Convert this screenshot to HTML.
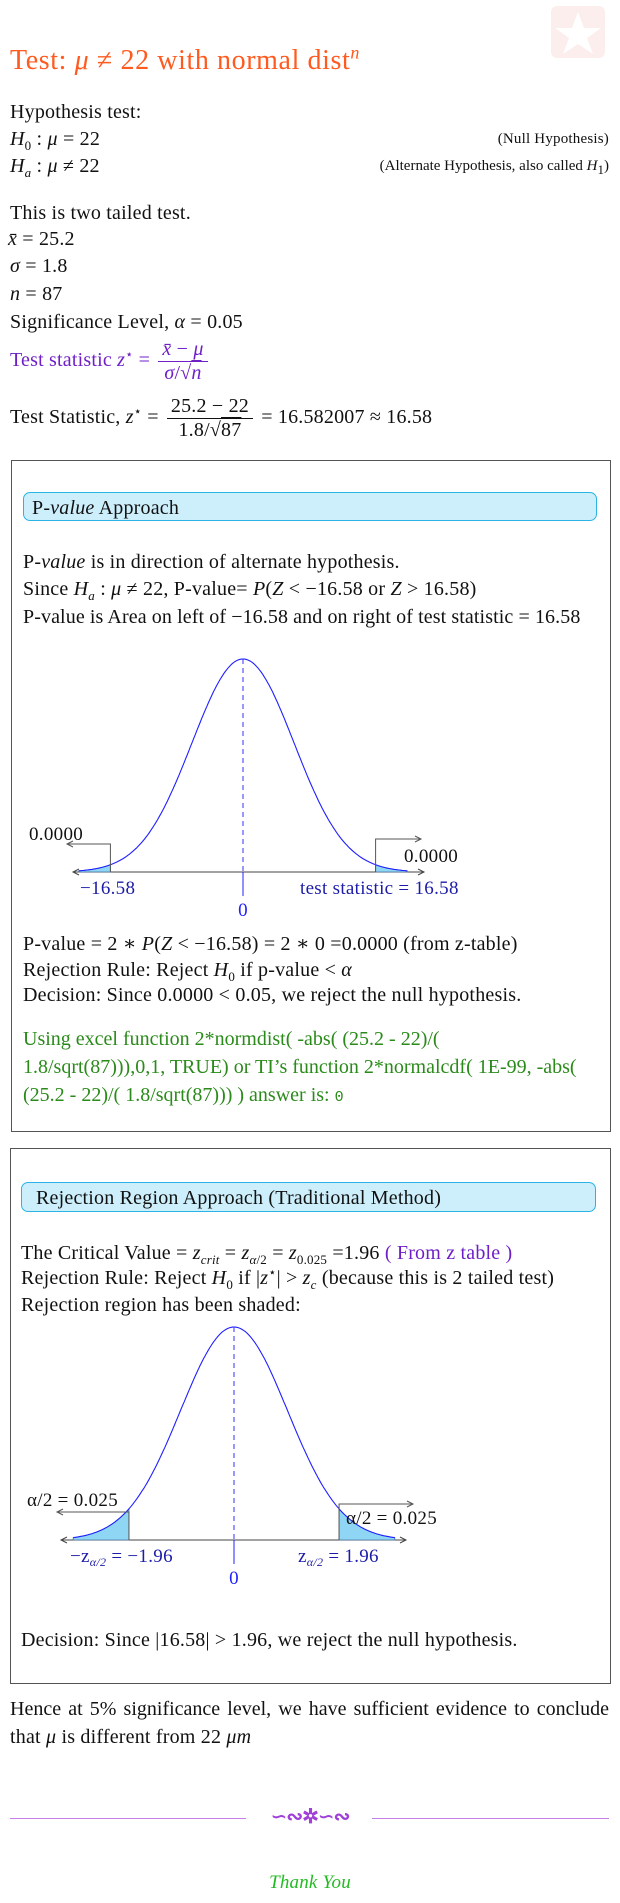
<!DOCTYPE html>
<html><head><meta charset="utf-8">
<style>
body{margin:0;background:#fff;}
#pg{position:relative;width:620px;height:1903px;overflow:hidden;font-family:"Liberation Serif","DejaVu Serif",serif;font-size:20px;letter-spacing:0.2px;color:#111;}
.t{position:absolute;white-space:nowrap;line-height:1;}
i{font-style:italic;}
.frac{display:inline-block;vertical-align:middle;text-align:center;line-height:1.15;margin:0 3px;}
.frac > span{display:block;padding:0 4px;}
.frac > .num{border-bottom:1px solid currentColor;}
.ov{text-decoration:overline;}
.box{position:absolute;border:1px solid #555;}
.hdr{position:absolute;background:#cdeffc;border:1px solid #2bb3e6;border-radius:7px;font-size:20px;box-sizing:border-box;padding:4px 8px;}
.green{color:#2a8a1a;}
.purple{color:#6f1fc8;}
sub,sup{font-size:13px;line-height:0;}
</style></head><body>
<div id="pg">
<svg class="t" style="left:551px;top:6px" width="54" height="52"><rect x="0" y="0" width="54" height="52" rx="6" fill="#fdeeee"/><polygon points="27,6 33,22 50,22 36,32 42,48 27,38 12,48 18,32 4,22 21,22" fill="#fff"/></svg>

<div class="t" style="left:10px;top:47px;font-size:28px;letter-spacing:0.6px;color:#ff5a1f">Test: <i>μ</i> ≠ 22 with normal dist<sup style="font-size:18px"><i>n</i></sup></div>

<div class="t" style="left:10px;top:102px">Hypothesis test:</div>
<div class="t" style="left:10px;top:129px"><i>H</i><sub>0</sub> : <i>μ</i> = 22</div>
<div class="t" style="right:11px;top:132px;font-size:15px">(Null Hypothesis)</div>
<div class="t" style="left:10px;top:156px"><i>H<sub>a</sub></i> : <i>μ</i> ≠ 22</div>
<div class="t" style="right:11px;top:159px;font-size:15px;letter-spacing:0">(Alternate Hypothesis, also called <i>H</i><sub>1</sub>)</div>

<div class="t" style="left:10px;top:203px">This is two tailed test.</div>
<div class="t" style="left:8px;top:229px"><i>x̄</i> = 25.2</div>
<div class="t" style="left:10px;top:256px"><i>σ</i> = 1.8</div>
<div class="t" style="left:10px;top:284px"><i>n</i> = 87</div>
<div class="t" style="left:10px;top:312px">Significance Level, <i>α</i> = 0.05</div>
<div class="t purple" style="left:10px;top:338px">Test statistic <i>z</i><sup>⋆</sup> = <span class="frac"><span class="num"><i>x̄</i> − <i>μ</i></span><span><i>σ</i>/√<span class="ov"><i>n</i></span></span></span></div>
<div class="t" style="left:10px;top:395px">Test Statistic, <i>z</i><sup>⋆</sup> = <span class="frac"><span class="num">25.2 − 22</span><span>1.8/√<span class="ov">87</span></span></span> = 16.582007 ≈ 16.58</div>

<div class="box" style="left:11px;top:460px;width:598px;height:670px"></div>
<div class="hdr" style="left:23px;top:492px;width:574px;height:29px">P-<i>value</i> Approach</div>
<div class="t" style="left:23px;top:552px">P-<i>value</i> is in direction of alternate hypothesis.</div>
<div class="t" style="left:23px;top:579px">Since <i>H<sub>a</sub></i> : <i>μ</i> ≠ 22, P-value= <i>P</i>(<i>Z</i> &lt; −16.58 or <i>Z</i> &gt; 16.58)</div>
<div class="t" style="left:23px;top:607px;letter-spacing:0.1px">P-value is Area on left of −16.58 and on right of test statistic = 16.58</div>

<svg id="c1" class="t" style="left:0;top:640px" width="620" height="290"></svg>

<div class="t" style="left:23px;top:934px">P-value = 2 ∗ <i>P</i>(<i>Z</i> &lt; −16.58) = 2 ∗ 0 =0.0000 (from z-table)</div>
<div class="t" style="left:23px;top:960px">Rejection Rule: Reject <i>H</i><sub>0</sub> if p-value &lt; <i>α</i></div>
<div class="t" style="left:23px;top:985px">Decision: Since 0.0000 &lt; 0.05, we reject the null hypothesis.</div>
<div class="t green" style="left:23px;top:1025px;line-height:28px;white-space:nowrap;letter-spacing:0">Using excel function 2*normdist( -abs( (25.2 - 22)/(<br>1.8/sqrt(87))),0,1, TRUE) or TI’s function 2*normalcdf( 1E-99, -abs(<br>(25.2 - 22)/( 1.8/sqrt(87))) ) answer is: <span style="font-family:'Liberation Mono',monospace;font-size:15px">0</span></div>

<div class="box" style="left:10px;top:1148px;width:599px;height:534px"></div>
<div class="hdr" style="left:21px;top:1182px;width:575px;height:30px;padding-left:14px">Rejection Region Approach (Traditional Method)</div>
<div class="t" style="left:21px;top:1243px">The Critical Value = <i>z<sub>crit</sub></i> = <i>z</i><sub><i>α</i>/2</sub> = <i>z</i><sub>0.025</sub> =1.96 <span class="purple">( From z table )</span></div>
<div class="t" style="left:21px;top:1268px">Rejection Rule: Reject <i>H</i><sub>0</sub> if |<i>z</i><sup>⋆</sup>| &gt; <i>z<sub>c</sub></i> (because this is 2 tailed test)</div>
<div class="t" style="left:21px;top:1295px">Rejection region has been shaded:</div>

<svg id="c2" class="t" style="left:0;top:1310px" width="620" height="290"></svg>

<div class="t" style="left:21px;top:1630px">Decision: Since |16.58| &gt; 1.96, we reject the null hypothesis.</div>
<div class="t" style="left:10px;top:1699px;width:599px;text-align:justify;text-align-last:justify;white-space:normal;letter-spacing:0">Hence at 5% significance level, we have sufficient evidence to conclude</div>
<div class="t" style="left:10px;top:1727px">that <i>μ</i> is different from 22 <i>μm</i></div>

<div class="t" style="left:10px;top:1818px;width:236px;height:1px;background:#c77fe8"></div>
<div class="t" style="left:372px;top:1818px;width:237px;height:1px;background:#c77fe8"></div>
<div class="t" style="left:266px;top:1807px;width:88px;text-align:center;color:#a040d8;font-size:20px;font-weight:bold;letter-spacing:-1px">∽∾✲∽∾</div>
<div class="t" style="left:0;top:1873px;width:620px;text-align:center;color:#22bb22;font-style:italic;font-size:19px">Thank You</div>
</div>
<script>
// Chart 1 data
const c1Bounds = [-16.58, 16.58];
const c1Labels = ["−16.58", "test statistic = 16.58", "0"];
const c1Areas = ["0.0000", "0.0000"];
// Chart 2 data
const c2Bounds = [-1.96, 1.96];
const c2Labels = ["−z<tspan font-size='12' font-style='italic' dy='4'>α/2</tspan><tspan dy='-4'> = −1.96</tspan>", "z<tspan font-size='12' font-style='italic' dy='4'>α/2</tspan><tspan dy='-4'> = 1.96</tspan>"];
const c2Areas = ["α/2 = 0.025", "α/2 = 0.025"];

const NS = "http://www.w3.org/2000/svg";
function mk(svg, tag, attrs){const e=document.createElementNS(NS,tag);for(const k in attrs)e.setAttribute(k,attrs[k]);svg.appendChild(e);return e;}
function pdf(z){return Math.exp(-z*z/2);}

function drawChart(svg, cfg){
  const X = z => cfg.cx + z*cfg.sx;
  const Y = h => cfg.base - h*cfg.h;
  const zmin=cfg.zmin, zmax=-cfg.zmin;
  const ax=mk(svg,"line",{x1:cfg.axL,y1:cfg.base,x2:cfg.axR,y2:cfg.base,stroke:"#444","stroke-width":1});
  
  
  mk(svg,"path",{d:`M${cfg.axL+6},${cfg.base-3} L${cfg.axL},${cfg.base} L${cfg.axL+6},${cfg.base+3} M${cfg.axR-6},${cfg.base-3} L${cfg.axR},${cfg.base} L${cfg.axR-6},${cfg.base+3}`,fill:"none",stroke:"#444"});
  const lo=Math.max(cfg.bounds[0],-cfg.shadeLim), hi=Math.min(cfg.bounds[1],cfg.shadeLim);
  [[zmin,lo],[hi,zmax]].forEach((r,i)=>{
    let d=`M${X(r[0])},${cfg.base}`;
    for(let k=0;k<=30;k++){const z=r[0]+(r[1]-r[0])*k/30;d+=` L${X(z)},${Y(pdf(z))}`;}
    d+=` L${X(r[1])},${cfg.base} Z`;
    const p=mk(svg,"path",{d,fill:"#8fd6f5",stroke:"#4a6fa0","stroke-width":0.8});
    
    
  });
  let d="";
  for(let k=0;k<=200;k++){const z=zmin+(zmax-zmin)*k/200;d+=(k?" L":"M")+X(z).toFixed(1)+","+Y(pdf(z)).toFixed(1);}
  const c=mk(svg,"path",{d,fill:"none",stroke:"#2020ff","stroke-width":1.1});
  
  
  const m=mk(svg,"line",{x1:X(0),y1:Y(1),x2:X(0),y2:cfg.base,stroke:"#3030ff","stroke-dasharray":"5,4"});
  
  
  mk(svg,"line",{x1:X(0),y1:cfg.base,x2:X(0),y2:cfg.base+24,stroke:"#2020ff"});
  const zl=mk(svg,"text",{x:X(0),y:cfg.base+44,"text-anchor":"middle",fill:"#2020ff","font-size":19,"font-family":"Liberation Serif, serif"});
  zl.textContent="0";
  
  
  const xl=X(lo), xr=X(hi);
  const yl=cfg.base-cfg.armH[0], yr=cfg.base-cfg.armH[1];
  mk(svg,"path",{d:`M${xl},${cfg.base} L${xl},${yl} L${cfg.arrL},${yl} M${cfg.arrL+6},${yl-3} L${cfg.arrL},${yl} L${cfg.arrL+6},${yl+3}`,fill:"none",stroke:"#555"});
  mk(svg,"path",{d:`M${xr},${cfg.base} L${xr},${yr} L${cfg.arrR},${yr} M${cfg.arrR-6},${yr-3} L${cfg.arrR},${yr} L${cfg.arrR-6},${yr+3}`,fill:"none",stroke:"#555"});
  cfg.areas.forEach((a,i)=>{
    const t=mk(svg,"text",{x:cfg.areaPos[i][0],y:cfg.areaPos[i][1],"font-size":19,"font-family":"Liberation Serif, serif",fill:"#111","letter-spacing":"0.3"});
    t.textContent=a;
    
    
  });
  cfg.labels.forEach((l,i)=>{
    const t=mk(svg,"text",{x:cfg.labPos[i],y:cfg.base+22,"font-size":19,"font-family":"Liberation Serif, serif",fill:"#1c1ca8","letter-spacing":"0.3"});
    t.innerHTML=l;
    
    
  });
}
drawChart(document.getElementById('c1'),{cx:243,sx:51,base:232,h:213,zmin:-3.22,shadeLim:2.6,bounds:c1Bounds,axL:73,axR:424,
  arrL:67,arrR:421,armH:[28,33],areas:c1Areas,areaPos:[[29,200],[404,222]],labels:c1Labels.slice(0,2),labPos:[80,300]});
drawChart(document.getElementById('c2'),{cx:234,sx:53.6,base:230,h:213,zmin:-3.00,shadeLim:9,bounds:c2Bounds,axL:61,axR:406,
  arrL:57,arrR:413,armH:[28,36],areas:c2Areas,areaPos:[[27,196],[346,214]],labels:c2Labels,labPos:[70,298]});
</script>
</body></html>
